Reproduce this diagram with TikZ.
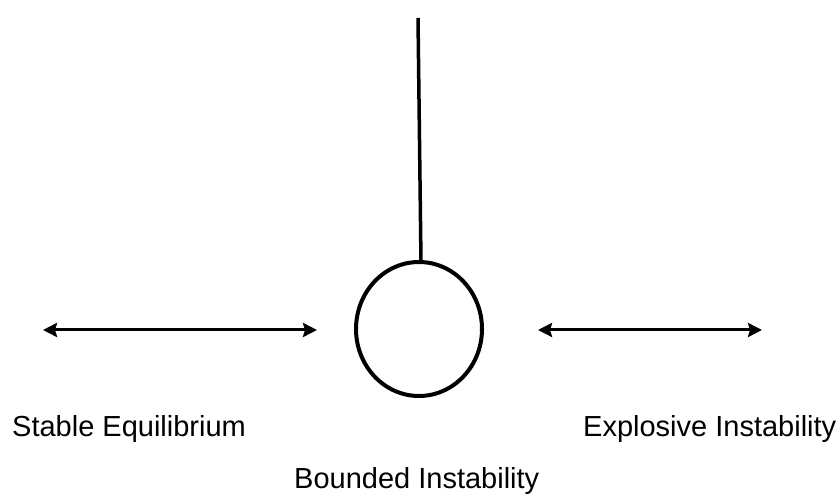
\documentclass[tikz,border=0pt]{standalone}
\usepackage{fontspec}
\setmainfont{Liberation Sans}
\usetikzlibrary{arrows.meta,shapes.geometric}
\begin{document}
\begin{tikzpicture}[x=1pt,y=-1pt,
  lbl/.style={anchor=base west,inner sep=0pt,font=\fontsize{29}{34}\selectfont},
  dblarrow/.style={line width=3pt,{Stealth[length=14pt,width=14pt,inset=2pt]}-{Stealth[length=14pt,width=14pt,inset=2pt]}},
  bobstyle/.style={ellipse,draw,line width=4pt,minimum width=126pt,minimum height=134pt,inner sep=0pt,outer sep=0pt},
  rod/.style={line width=3.5pt}]
\useasboundingbox (0,0) rectangle (836,494);
\node[bobstyle] (bob) at (419,329) {};
\coordinate (pivot) at (418,18);
\draw[rod] (pivot) -- ([xshift=2pt]bob.north);
\coordinate (l1) at (43,330);
\coordinate (l2) at (317,330);
\coordinate (r1) at (538,330);
\coordinate (r2) at (762,330);
\draw[dblarrow] (l1) -- (l2);
\draw[dblarrow] (r1) -- (r2);
\node[lbl] (stable) at (12,437) {Stable Equilibrium};
\node[lbl] (explosive) at (583,437) {Explosive Instability};
\node[lbl] (bounded) at (294,488) {Bounded Instability};
\end{tikzpicture}
\end{document}
